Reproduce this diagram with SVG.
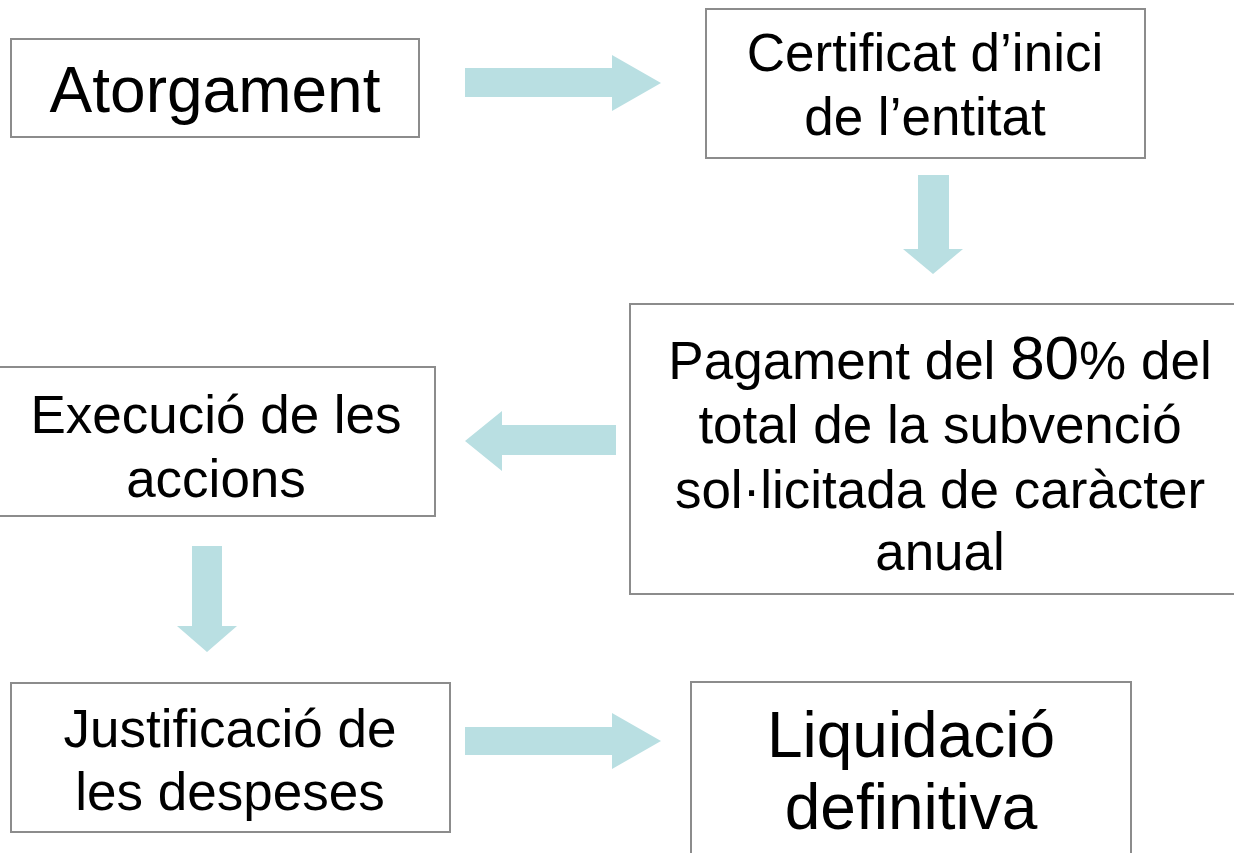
<svg xmlns="http://www.w3.org/2000/svg" width="1234" height="853" viewBox="0 0 1234 853">
<style>
.box{fill:#fff;stroke:#8c8c8c;stroke-width:2}
.t{font-family:"Liberation Sans",Arial,sans-serif;fill:#000;text-anchor:middle}
.arr{fill:#b9dfe2}
</style>
<rect width="1234" height="853" fill="#fff"/>
<g id="connectors">
<polygon class="arr" points="465,68 612,68 612,55 661,83 612,111 612,97 465,97"/>
<polygon class="arr" points="918,175 949,175 949,249 963,249 933,274 903,249 918,249"/>
<polygon class="arr" points="616,425 502,425 502,411 465,441 502,471 502,455 616,455"/>
<polygon class="arr" points="192,546 222,546 222,626 237,626 207,652 177,626 192,626"/>
<polygon class="arr" points="465,727 612,727 612,713 661,741 612,769 612,755 465,755"/>
</g>
<g id="n1">
<rect class="box" x="11" y="39" width="408" height="98"/>
<text class="t" x="215" y="112" font-size="64">Atorgament</text>
</g>
<g id="n2">
<rect class="box" x="706" y="9" width="439" height="149"/>
<text class="t" x="925" y="71" font-size="53">Certificat d’inici</text>
<text class="t" x="925" y="135" font-size="53">de l’entitat</text>
</g>
<g id="n3">
<rect class="box" x="630" y="304" width="620" height="290"/>
<text class="t" x="940" y="379" font-size="53">Pagament del <tspan font-size="62">80</tspan>% del</text>
<text class="t" x="940" y="443" font-size="53">total de la subvenció</text>
<text class="t" x="940" y="508" font-size="53">sol·licitada de caràcter</text>
<text class="t" x="940" y="570" font-size="53">anual</text>
</g>
<g id="n4">
<rect class="box" x="-2" y="367" width="437" height="149"/>
<text class="t" x="216" y="433" font-size="53">Execució de les</text>
<text class="t" x="216" y="497" font-size="53">accions</text>
</g>
<g id="n5">
<rect class="box" x="11" y="683" width="439" height="149"/>
<text class="t" x="230" y="747" font-size="53">Justificació de</text>
<text class="t" x="230" y="810" font-size="53">les despeses</text>
</g>
<g id="n6">
<rect class="box" x="691" y="682" width="440" height="190"/>
<text class="t" x="911" y="757" font-size="64">Liquidació</text>
<text class="t" x="911" y="829" font-size="64">definitiva</text>
</g>
</svg>
